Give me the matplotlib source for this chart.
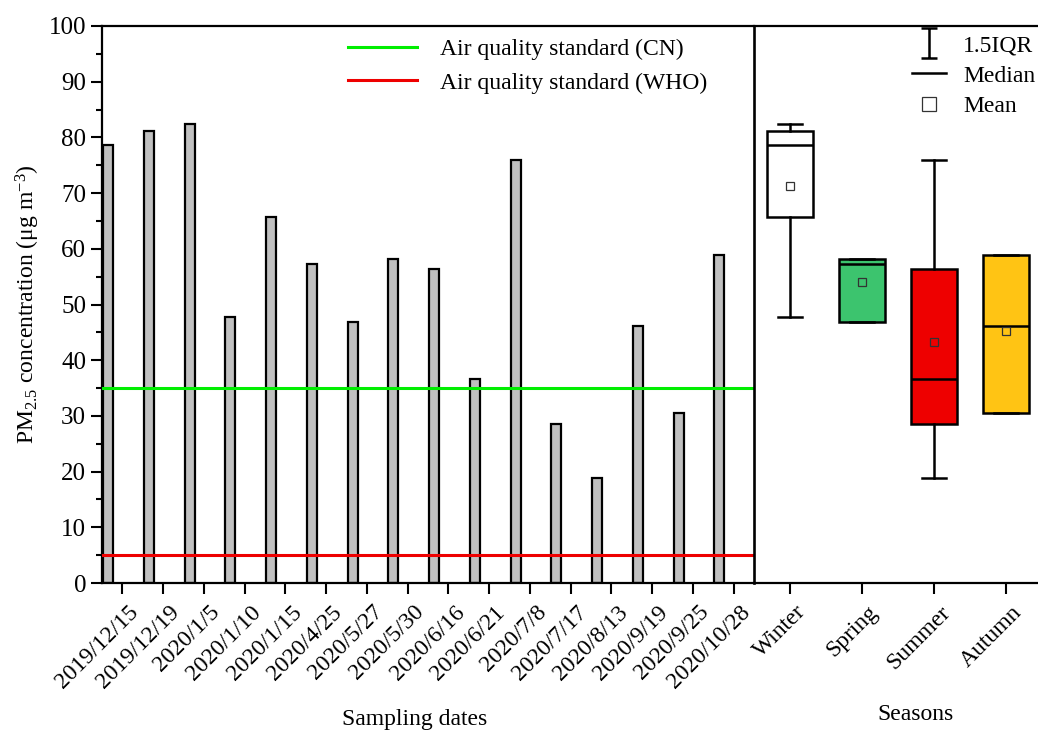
import matplotlib
matplotlib.use("Agg")
import matplotlib.pyplot as plt
import numpy as np
from matplotlib.path import Path
from matplotlib.lines import Line2D
from matplotlib.transforms import ScaledTranslation, blended_transform_factory

plt.rcParams['font.family'] = ['Liberation Serif', 'DejaVu Serif']
plt.rcParams['mathtext.fontset'] = 'custom'
plt.rcParams['mathtext.rm'] = 'Liberation Serif'
plt.rcParams['mathtext.it'] = 'Liberation Serif:italic'

dates = ["2019/12/15", "2019/12/19", "2020/1/5", "2020/1/10", "2020/1/15",
         "2020/4/25", "2020/5/27", "2020/5/30", "2020/6/16", "2020/6/21",
         "2020/7/8", "2020/7/17", "2020/8/13", "2020/9/19", "2020/9/25",
         "2020/10/28"]
pm25 = [78.6, 81.2, 82.4, 47.8, 65.7, 57.2, 46.9, 58.2, 56.4, 36.6,
        75.9, 28.5, 18.9, 46.1, 30.5, 58.9]
std_cn = 35
std_who = 5

seasons = ["Winter", "Spring", "Summer", "Autumn"]
whislo = [47.8, 46.9, 18.9, 30.5]
q1 = [65.7, 46.9, 28.5, 30.5]
med = [78.6, 57.2, 36.6, 46.1]
q3 = [81.2, 58.2, 56.4, 58.9]
whishi = [82.4, 58.2, 75.9, 58.9]
means = [71.2, 54.1, 43.3, 45.2]
season_colors = ["#FFFFFF", "#3CC46E", "#EE0000", "#FFC414"]

W, H = 1038, 731
fig = plt.figure(figsize=(W / 100, H / 100), dpi=100)
bottom = (H - 583) / H
height = (583 - 26) / H
ax = fig.add_axes([102 / W, bottom, 652 / W, height])
ax2 = fig.add_axes([754 / W, bottom, 288 / W, height], sharey=ax)

FS = 17
shift = ScaledTranslation(0.13, -0.26, fig.dpi_scale_trans)


def rotated_labels(a, positions, labels):
    a.set_xticks(positions)
    a.set_xticklabels([])
    tr = blended_transform_factory(a.transData, a.transAxes) + shift
    for p, lab in zip(positions, labels):
        a.text(p, 0, lab, transform=tr, rotation=45, ha="right", va="center",
               rotation_mode="anchor", fontsize=FS, clip_on=False)


x = np.arange(1, len(dates) + 1)
ax.bar(x - 0.35, pm25, width=0.25, color="#C0C0C0", edgecolor="black",
       linewidth=1.6, zorder=2)
ax.axhline(std_cn, color="#00EE00", lw=2.2, zorder=3,
           label="Air quality standard (CN)")
ax.axhline(std_who, color="#EE0000", lw=2.2, zorder=3,
           label="Air quality standard (WHO)")
ax.set_xlim(0.5, len(dates) + 0.5)
ax.set_ylim(0, 100)
ax.set_yticks(np.arange(0, 101, 10))
ax.set_yticks(np.arange(5, 100, 10), minor=True)
rotated_labels(ax, x, dates)
ax.tick_params(axis="y", labelsize=FS + 1, width=1.5, length=8, direction="out")
ax.tick_params(axis="y", which="minor", width=1.5, length=4)
ax.tick_params(axis="x", width=1.5, length=8, direction="out")
for s in ax.spines.values():
    s.set_linewidth(1.6)
ax.spines["right"].set_visible(False)
ax.set_ylabel(r"PM$_{2.5}$ concentration (μg m$^{-3}$)", fontsize=FS)
ax.yaxis.set_label_coords(-0.092, 0.5)
ax.set_xlabel("Sampling dates", fontsize=FS)
ax.xaxis.set_label_coords(0.48, -0.226)
ax.legend(loc="upper left", bbox_to_anchor=(0.345, 1.015), frameon=False,
          fontsize=FS, handlelength=2.9, handletextpad=1.0,
          labelspacing=0.5)

stats = []
for i in range(len(seasons)):
    stats.append(dict(med=med[i], q1=q1[i], q3=q3[i], whislo=whislo[i],
                      whishi=whishi[i], mean=means[i], fliers=[]))
pos2 = np.arange(1, len(seasons) + 1)
bp = ax2.bxp(stats, positions=pos2, widths=0.64,
             showmeans=True, patch_artist=True, showfliers=False,
             boxprops=dict(linewidth=1.8, edgecolor="black"),
             medianprops=dict(color="black", linewidth=1.8),
             whiskerprops=dict(linewidth=1.8),
             capprops=dict(linewidth=1.8),
             capwidths=0.33,
             meanprops=dict(marker="s", markersize=5.5, markerfacecolor="none",
                            markeredgecolor="#333333", markeredgewidth=0.9))
for patch, c in zip(bp["boxes"], season_colors):
    patch.set_facecolor(c)
ax2.set_xlim(0.5, len(seasons) + 0.5)
rotated_labels(ax2, pos2, seasons)
ax2.tick_params(axis="y", which="both", left=False, labelleft=False)
ax2.tick_params(axis="x", width=1.5, length=8, direction="out")
for s in ax2.spines.values():
    s.set_linewidth(1.6)
ax2.spines["left"].set_linewidth(1.9)
ax2.set_xlabel("Seasons", fontsize=FS)
ax2.xaxis.set_label_coords(0.56, -0.218)

ibeam = Path([(-0.5, 1), (0.5, 1), (0, 1), (0, -1), (-0.5, -1), (0.5, -1)],
             [Path.MOVETO, Path.LINETO, Path.MOVETO, Path.LINETO,
              Path.MOVETO, Path.LINETO])
handles = [
    Line2D([], [], linestyle="none", marker=ibeam, markersize=22,
           markeredgewidth=1.8, color="black"),
    Line2D([], [], color="black", lw=1.8),
    Line2D([], [], linestyle="none", marker="s", markersize=10,
           markerfacecolor="none", markeredgecolor="#333333",
           markeredgewidth=0.9),
]
ax2.legend(handles, ["1.5IQR", "Median", "Mean"], loc="upper left",
           bbox_to_anchor=(0.5, 1.01), frameon=False, fontsize=FS,
           handlelength=1.45, handletextpad=0.7, labelspacing=0.38,
           borderaxespad=0.2)

fig.savefig("out.png", dpi=100)
